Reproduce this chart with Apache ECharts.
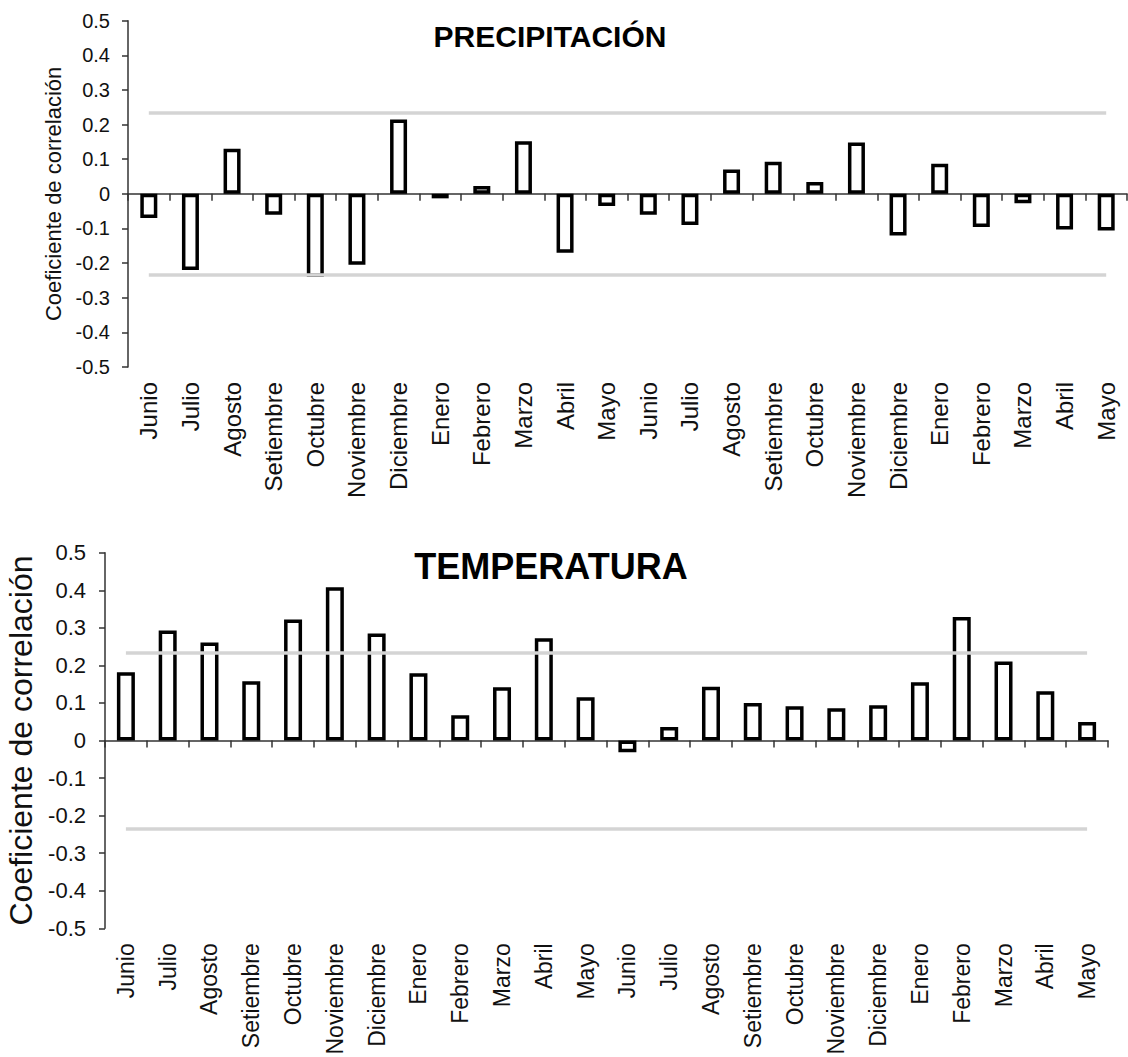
<!DOCTYPE html>
<html>
<head>
<meta charset="utf-8">
<script src="https://cdn.jsdelivr.net/npm/echarts@6/dist/echarts.min.js"></script>
<style>
html,body{margin:0;padding:0;background:#fff;}
#chart{width:1128px;height:1057px;}
</style>
</head>
<body>
<div id="chart"></div>
<script>
var months = ['Junio','Julio','Agosto','Setiembre','Octubre','Noviembre','Diciembre','Enero','Febrero','Marzo','Abril','Mayo',
              'Junio','Julio','Agosto','Setiembre','Octubre','Noviembre','Diciembre','Enero','Febrero','Marzo','Abril','Mayo'];
var precipitacion = [-0.07, -0.22, 0.13, -0.06, -0.24, -0.205, 0.215, -0.013, 0.023, 0.152, -0.17, -0.035,
                     -0.06, -0.09, 0.07, 0.093, 0.034, 0.148, -0.12, 0.087, -0.096, -0.027, -0.103, -0.106];
var temperatura = [0.182, 0.293, 0.261, 0.158, 0.322, 0.408, 0.285, 0.179, 0.067, 0.142, 0.272, 0.115,
                   -0.031, 0.036, 0.143, 0.100, 0.091, 0.086, 0.094, 0.155, 0.329, 0.21, 0.131, 0.049];
var criticalR = 0.234;
var titles = ['PRECIPITACIÓN', 'TEMPERATURA'];
var yName = 'Coeficiente de correlación';

var FONT = '"Liberation Sans", Arial, sans-serif';
var axisColor = '#333';
var textColor = '#111';

function limitLines(n) {
  return [
    [{coord: [0, criticalR]}, {coord: [n - 1, criticalR]}],
    [{coord: [0, -criticalR]}, {coord: [n - 1, -criticalR]}]
  ];
}

function zeroAxis(grid) {
  return {
    type: 'category', gridIndex: grid, data: months, position: 'bottom',
    axisLine: {show: true, onZero: true, lineStyle: {color: axisColor, width: 1.5}},
    axisTick: {show: true, interval: 0, length: 7, lineStyle: {color: axisColor, width: 1.5}},
    axisLabel: {show: false}, splitLine: {show: false}
  };
}
function labelAxis(grid, margin, size) {
  return {
    type: 'category', gridIndex: grid, data: months, position: 'bottom',
    axisLine: {show: false, onZero: false}, axisTick: {show: false},
    axisLabel: {show: true, interval: 0, rotate: 90, margin: margin, fontSize: size, fontFamily: FONT, color: textColor},
    splitLine: {show: false}
  };
}
function valueAxis(grid, labelSize, margin, nameSize, nameGap) {
  return {
    type: 'value', gridIndex: grid, min: -0.5, max: 0.5, interval: 0.1,
    axisLine: {show: true, lineStyle: {color: axisColor, width: 1.5}},
    axisTick: {show: true, length: 6, lineStyle: {color: axisColor, width: 1.5}},
    splitLine: {show: false},
    axisLabel: {fontSize: labelSize, margin: margin, fontFamily: FONT, color: textColor,
      formatter: function (v) { return String(Math.round(v * 10) / 10); }},
    name: yName, nameLocation: 'middle', nameGap: nameGap,
    nameTextStyle: {fontSize: nameSize, fontFamily: FONT, color: textColor, lineHeight: nameSize}
  };
}
function barSeries(xIdx, yIdx, data, bw) {
  return {
    type: 'bar', xAxisIndex: xIdx, yAxisIndex: yIdx, data: data, barWidth: bw,
    itemStyle: {color: '#ffffff', borderColor: '#000000', borderWidth: 3.5},
    markLine: {
      silent: true, symbol: 'none', label: {show: false},
      lineStyle: {color: '#d4d4d4', width: 3.5, type: 'solid'},
      emphasis: {disabled: true},
      data: limitLines(months.length)
    }
  };
}

var chart = echarts.init(document.getElementById('chart'), null, {renderer: 'svg'});
chart.setOption({
  animation: false,
  backgroundColor: '#ffffff',
  title: [
    {text: titles[0], left: 545, top: 16, textAlign: 'center',
     textStyle: {fontSize: 30, fontWeight: 'bold', fontFamily: FONT, color: '#000', lineHeight: 30}},
    {text: titles[1], left: 546, top: 543, textAlign: 'center',
     textStyle: {fontSize: 36, fontWeight: 'bold', fontFamily: FONT, color: '#000', lineHeight: 36}}
  ],
  grid: [
    {left: 128, top: 20.7, width: 999, height: 346.3, containLabel: false, outerBoundsMode: 'none'},
    {left: 105, top: 552.7, width: 1003, height: 375.6, containLabel: false, outerBoundsMode: 'none'}
  ],
  xAxis: [zeroAxis(0), labelAxis(0, 15, 24), zeroAxis(1), labelAxis(1, 15, 23)],
  yAxis: [valueAxis(0, 20, 18, 22, 62), valueAxis(1, 22, 19, 32, 62)],
  series: [
    barSeries(0, 0, precipitacion, 17),
    barSeries(2, 1, temperatura, 18)
  ]
});
</script>
</body>
</html>
